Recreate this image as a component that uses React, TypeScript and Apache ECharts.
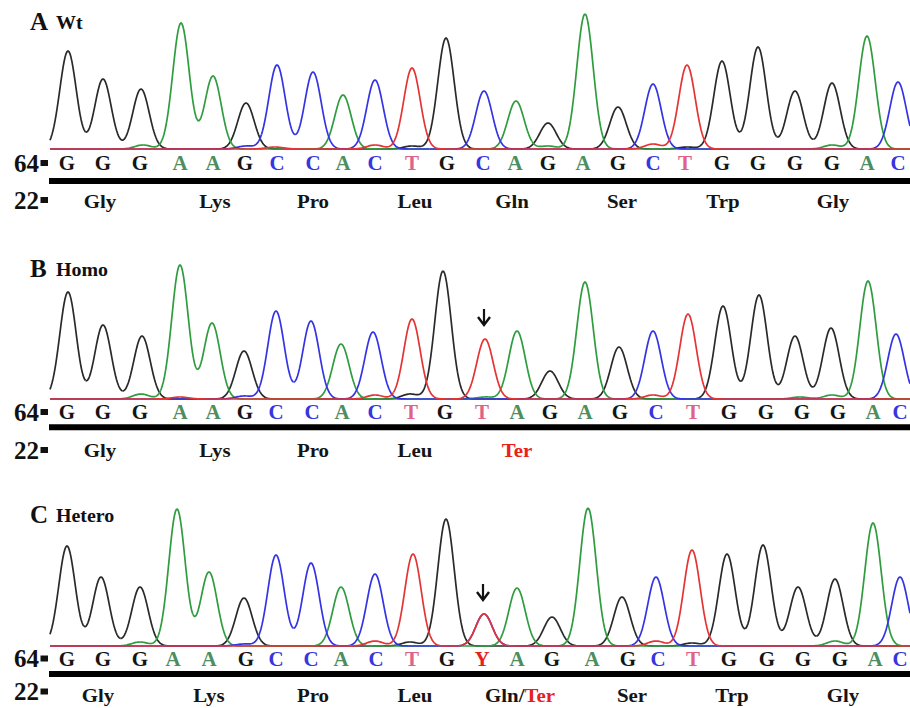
import React, { useEffect, useRef } from "react";
import * as echarts from "echarts";

// ---------- DATA (scan positions along the trace, signal intensities) ----------
const SCAN_MAX = 860;
const CHANNELS = ["G", "A", "C", "T"];

const basesA = "GGGAAGCCACTGCAGAGCTGGGGAC".split("");
const basesB = "GGGAAGCCACTGTAGAGCTGGGGAC".split("");
const basesC = "GGGAAGCCACTGYAGAGCTGGGGAC".split("");

const peakPosA = [18, 53, 91, 131, 163, 196, 227, 263, 293, 325, 362, 396, 434, 466, 498, 535, 568, 603, 637, 672, 708, 745, 782, 817, 848];
const peakPosB = [18, 53, 92, 130, 162, 194, 226, 261, 291, 323, 362, 393, 435, 467, 500, 535, 569, 603, 638, 673, 709, 745, 781, 818, 846];
const peakPosC = [17, 51, 90, 127, 159, 194, 226, 261, 291, 325, 363, 396, 434, 467, 502, 538, 572, 606, 642, 677, 713, 748, 785, 823, 850];

const peakHeightA = [98, 70, 60, 126, 73, 46, 84, 77, 54, 69, 81, 111, 58, 48, 26, 135, 42, 65, 84, 88, 102, 58, 66, 113, 67];
const peakHeightB = [107, 74, 63, 134, 76, 48, 88, 78, 55, 67, 80, 128, 60, 68, 28, 117, 52, 68, 85, 93, 104, 63, 71, 118, 65];
const peakHeightC = [100, 69, 59, 137, 74, 48, 91, 83, 59, 72, 92, 127, 32, 58, 29, 138, 49, 69, 96, 92, 101, 59, 67, 123, 69];

// small background peaks: [scan position, channel, intensity]
const minorA: [number, string, number][] = [[93, "A", 4], [196, "C", 3], [225, "T", 2], [325, "T", 4], [362, "G", 3], [498, "A", 3], [603, "T", 5], [637, "G", 2], [782, "A", 4]];
const minorB: [number, string, number][] = [[91, "A", 5], [194, "C", 3], [130, "T", 2], [325, "T", 4], [360, "G", 5], [435, "A", 2], [603, "T", 4], [750, "A", 2], [782, "A", 4]];
const minorC: [number, string, number][] = [[90, "A", 4], [194, "C", 2], [325, "T", 5], [360, "G", 4], [606, "T", 5], [642, "G", 3], [785, "A", 5]];

// base-call label positions (scan units)
const callPosA = [17, 53, 90, 130, 163, 195, 227, 263, 293, 325, 362, 397, 433, 465, 498, 533, 568, 603, 635, 672, 708, 745, 782, 817, 848];
const callPosB = [17, 53, 90, 130, 163, 195, 226, 262, 292, 325, 361, 395, 432, 467, 500, 535, 570, 606, 643, 679, 716, 752, 788, 823, 850];
const callPosC = [17, 53, 90, 123, 159, 196, 226, 261, 291, 326, 362, 397, 432, 467, 502, 542, 578, 608, 643, 679, 717, 753, 790, 825, 850];

// amino acids
const aaA = ["Gly", "Lys", "Pro", "Leu", "Gln", "Ser", "Trp", "Gly"];
const aaPosA = [50, 165, 263, 365, 462, 572, 673, 783];
const aaB = ["Gly", "Lys", "Pro", "Leu", "Ter"];
const aaPosB = [50, 165, 263, 365, 467];
const aaC = ["Gly", "Lys", "Pro", "Leu", "Gln/Ter", "Ser", "Trp", "Gly"];
const aaPosC = [48, 159, 263, 365, 470, 582, 682, 793];

const mutationIndex = 12;
const panelTitles = [["A", "Wt"], ["B", "Homo"], ["C", "Hetero"]];
const rowLabels = ["64", "22"];

// ---------- STYLE / LAYOUT ----------
const SIGMA = 8.2;
const FONT = '"Liberation Serif", "Times New Roman", serif';
const traceColors: Record<string, string> = { G: "#2a2a2a", A: "#2f9c3f", C: "#3434e4", T: "#e43434" };
const callColors: Record<string, string> = { G: "#151515", A: "#4e8e5e", C: "#3636e0", T: "#e0628a", Y: "#e8201a" };
const RED = "#e8201a";

const panels = [
  { bases: basesA, pos: peakPosA, h: peakHeightA, minor: minorA, callPos: callPosA, aa: aaA, aaPos: aaPosA, arrow: false,
    top: 9, titleY: 21, callY: 163.5, barY: 181, aaY: 201, l64Y: 163, l22Y: 200 },
  { bases: basesB, pos: peakPosB, h: peakHeightB, minor: minorB, callPos: callPosB, aa: aaB, aaPos: aaPosB, arrow: true,
    top: 259, titleY: 268, callY: 412, barY: 427.3, aaY: 450, l64Y: 412, l22Y: 450 },
  { bases: basesC, pos: peakPosC, h: peakHeightC, minor: minorC, callPos: callPosC, aa: aaC, aaPos: aaPosC, arrow: true,
    top: 506, titleY: 514, callY: 659.5, barY: 674, aaY: 695.5, l64Y: 658.5, l22Y: 691.5 },
];
const GRID_H = 140;
const LEFT = 50;

function channelsOf(b: string): string[] {
  if (b === "Y") return ["C", "T"];
  return [b];
}

function buildPeaks(p: any): Record<string, number[][]> {
  const out: Record<string, number[][]> = { G: [], A: [], C: [], T: [] };
  p.bases.forEach((b: string, i: number) => {
    channelsOf(b).forEach((c) => out[c].push([p.pos[i], p.h[i]]));
  });
  p.minor.forEach(([x, c, v]: [number, string, number]) => out[c].push([x, v]));
  CHANNELS.forEach((c) => out[c].sort((a, b) => a[0] - b[0]));
  return out;
}

function signal(peaks: number[][], x: number): number {
  let s = 0;
  for (const [p, h] of peaks) {
    const d = x - p;
    if (Math.abs(d) < 6 * SIGMA) s += h * Math.exp(-(d * d) / (2 * SIGMA * SIGMA));
  }
  return s;
}

function textStyle(text: string, fill: string, size: number, align = "center", valign = "middle") {
  return {
    text, fill, fontSize: size, fontWeight: "bold", fontFamily: FONT,
    align, verticalAlign: valign, textAlign: align, textVerticalAlign: valign,
  };
}

function buildOption() {
  const grid: any[] = [];
  const xAxis: any[] = [];
  const yAxis: any[] = [];
  const series: any[] = [];
  const graphic: any[] = [];

  panels.forEach((p, gi) => {
    grid.push({ left: LEFT, top: p.top, width: SCAN_MAX, height: GRID_H });
    xAxis.push({ type: "value", gridIndex: gi, min: 0, max: SCAN_MAX, show: false });
    yAxis.push({ type: "value", gridIndex: gi, min: 0, max: GRID_H, show: false });

    const peaksBy = buildPeaks(p);
    CHANNELS.forEach((c) => {
      const peaks = peaksBy[c];
      series.push({
        type: "custom",
        coordinateSystem: "cartesian2d",
        xAxisIndex: gi,
        yAxisIndex: gi,
        silent: true,
        clip: false,
        data: peaks,
        renderItem: (params: any, api: any) => {
          const i = params.dataIndex;
          const lo = i === 0 ? 0 : (peaks[i - 1][0] + peaks[i][0]) / 2;
          const hi = i === peaks.length - 1 ? SCAN_MAX : (peaks[i][0] + peaks[i + 1][0]) / 2;
          const pts: number[][] = [];
          for (let x = lo; x < hi; x += 1) pts.push(api.coord([x, signal(peaks, x)]));
          pts.push(api.coord([hi, signal(peaks, hi)]));
          return {
            type: "polyline",
            shape: { points: pts },
            style: { stroke: traceColors[c], lineWidth: 1.7, fill: null, lineJoin: "round" },
          };
        },
      });
    });

    // base calls
    series.push({
      type: "custom",
      coordinateSystem: "cartesian2d",
      xAxisIndex: gi,
      yAxisIndex: gi,
      silent: true,
      clip: false,
      data: p.callPos.map((x: number) => [x, 0]),
      renderItem: (params: any, api: any) => {
        const pt = api.coord([api.value(0), 0]);
        const b = p.bases[params.dataIndex];
        return { type: "text", x: pt[0], y: p.callY, scaleX: 1.05, style: textStyle(b, callColors[b], 20) };
      },
    });

    // amino acids
    series.push({
      type: "custom",
      coordinateSystem: "cartesian2d",
      xAxisIndex: gi,
      yAxisIndex: gi,
      silent: true,
      clip: false,
      data: p.aaPos.map((x: number) => [x, 0]),
      renderItem: (params: any, api: any) => {
        const pt = api.coord([api.value(0), 0]);
        const name = p.aa[params.dataIndex];
        if (name === "Gln/Ter") {
          return {
            type: "text",
            x: pt[0],
            y: p.aaY,
            scaleX: 1.1,
            style: {
              text: "{a|Gln/}{b|Ter}",
              align: "center", verticalAlign: "middle", textAlign: "center", textVerticalAlign: "middle",
              fontSize: 19, fontWeight: "bold", fontFamily: FONT,
              rich: {
                a: { fill: "#151515", color: "#151515", fontSize: 19, fontWeight: "bold", fontFamily: FONT },
                b: { fill: RED, color: RED, fontSize: 19, fontWeight: "bold", fontFamily: FONT },
              },
            },
          };
        }
        return { type: "text", x: pt[0], y: p.aaY, scaleX: 1.1, style: textStyle(name, name === "Ter" ? RED : "#151515", 19) };
      },
    });

    // mutation arrow
    if (p.arrow) {
      series.push({
        type: "custom",
        coordinateSystem: "cartesian2d",
        xAxisIndex: gi,
        yAxisIndex: gi,
        silent: true,
        clip: false,
        data: [[p.pos[mutationIndex], p.h[mutationIndex]]],
        renderItem: (params: any, api: any) => {
          const pt = api.coord([api.value(0), api.value(1)]);
          const x = pt[0] - 1;
          const tip = pt[1] - 14;
          return {
            type: "group",
            children: [
              { type: "line", shape: { x1: x, y1: tip - 16, x2: x, y2: tip - 1 }, style: { stroke: "#111", lineWidth: 2.2 } },
              {
                type: "polyline",
                shape: { points: [[x - 6, tip - 8], [x, tip], [x + 6, tip - 8]] },
                style: { stroke: "#111", lineWidth: 2.4, fill: null },
              },
            ],
          };
        },
      });
    }

    // static decorations
    graphic.push({ type: "text", x: 30, y: p.titleY, style: textStyle(panelTitles[gi][0], "#111", 25, "left") });
    graphic.push({ type: "text", x: 56, y: p.titleY + 1.5, scaleX: 1.05, style: textStyle(panelTitles[gi][1], "#111", 19, "left") });
    graphic.push({ type: "text", x: 39, y: p.l64Y, style: textStyle(rowLabels[0], "#111", 25, "right") });
    graphic.push({ type: "rect", shape: { x: 40.5, y: p.l64Y - 3, width: 7.5, height: 6 }, style: { fill: "#111" } });
    graphic.push({ type: "text", x: 39, y: p.l22Y, style: textStyle(rowLabels[1], "#111", 25, "right") });
    graphic.push({ type: "rect", shape: { x: 40.5, y: p.l22Y - 3, width: 7.5, height: 6 }, style: { fill: "#111" } });
    graphic.push({ type: "rect", shape: { x: 49, y: p.barY - 3, width: 862, height: 6 }, style: { fill: "#000" } });
  });

  return { animation: false, backgroundColor: "#ffffff", grid, xAxis, yAxis, series, graphic };
}

export default function App() {
  const ref = useRef<HTMLDivElement>(null);
  useEffect(() => {
    if (!ref.current) return;
    const chart = echarts.init(ref.current, undefined, { renderer: "svg" });
    chart.setOption(buildOption() as any);
    return () => chart.dispose();
  }, []);
  return <div ref={ref} style={{ position: "fixed", left: 0, top: 0, width: 910, height: 708, background: "#fff" }} />;
}
